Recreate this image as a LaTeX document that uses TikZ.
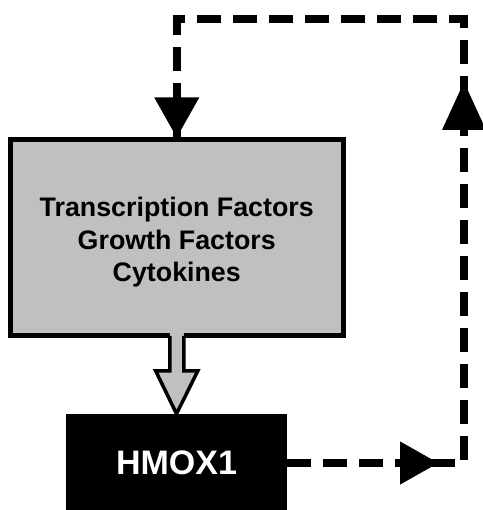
\documentclass[tikz,border=0pt]{standalone}
\usepackage{fontspec}
\setmainfont{Liberation Sans}
\usetikzlibrary{calc}
\definecolor{boxgray}{RGB}{192,192,192}
\newcommand{\topstrut}{\rule{0pt}{28pt}}
\tikzset{
  factorbox/.style={draw=black, fill=boxgray, line width=5pt, inner sep=0pt,
    minimum width=333.5pt, minimum height=196pt, align=center,
    font=\bfseries\fontsize{26.8}{32.5}\selectfont},
  genebox/.style={fill=black, draw=none, inner sep=0pt,
    minimum width=221pt, minimum height=98pt, text=white,
    font=\bfseries\fontsize{34}{37}\selectfont},
  loopline/.style={draw=black, line width=8pt, dash pattern=on 24pt off 12pt, line cap=butt, line join=miter},
  blockarrow/.style={draw=black, line width=3.5pt, line join=miter},
  headfill/.style={fill=black},
}
\begin{document}
\begin{tikzpicture}[x=1pt,y=1pt]
  \useasboundingbox (0,0) rectangle (482,510);

  % the two boxes
  \node[factorbox] (gf) at (176.75,272) {\topstrut Transcription Factors\\Growth Factors\\Cytokines};
  \node[genebox] (hm) at (176.5,47) {HMOX1};

  % open block arrow from the factors box down to HMOX1
  \fill[boxgray] ($(gf.south)+(-7,5.5)$) -- ($(gf.south)+(-7,-32.5)$)
    -- ($(gf.south)+(-21,-32.5)$) -- (hm.north) -- ($(gf.south)+(21,-32.5)$)
    -- ($(gf.south)+(7,-32.5)$) -- ($(gf.south)+(7,5.5)$) -- cycle;
  \draw[blockarrow] ($(gf.south)+(-7,2.5)$) -- ($(gf.south)+(-7,-32.5)$)
    -- ($(gf.south)+(-21,-32.5)$) -- (hm.north) -- ($(gf.south)+(21,-32.5)$)
    -- ($(gf.south)+(7,-32.5)$) -- ($(gf.south)+(7,2.5)$);

  % dashed feedback loop
  \coordinate (tr) at (464,491);
  \draw[loopline] (hm.east) -- (tr |- hm.east) -- (tr) -- (gf.north |- tr) -- (gf.north);

  % arrow heads along the loop
  \fill[headfill] ($(hm.east)+(113,21.5)$) -- ($(hm.east)+(151,0)$) -- ($(hm.east)+(113,-21.5)$) -- cycle;
  \fill[headfill] ($(tr |- hm.east)+(-22,333)$) -- ($(tr |- hm.east)+(0,381)$) -- ($(tr |- hm.east)+(22,333)$) -- cycle;
  \fill[headfill] ($(gf.north)+(-22.5,40)$) -- (gf.north) -- ($(gf.north)+(22.5,40)$) -- cycle;
\end{tikzpicture}
\end{document}
